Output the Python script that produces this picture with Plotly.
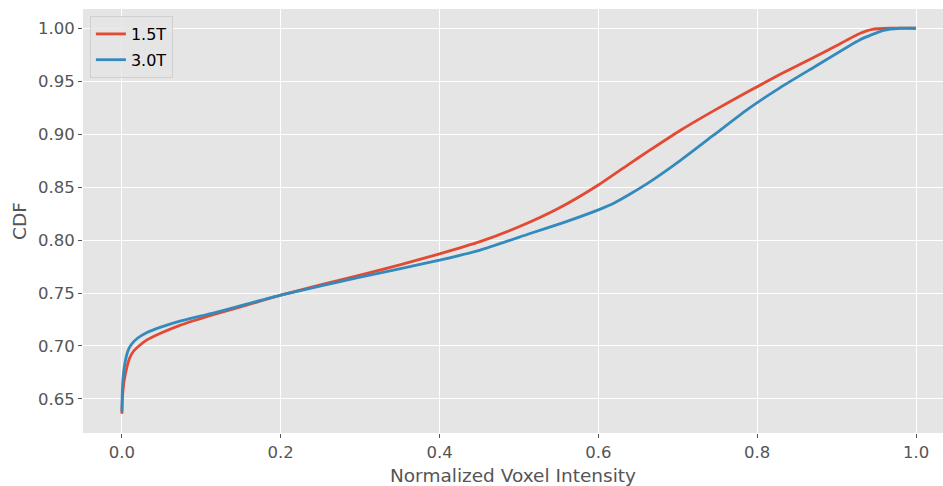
import plotly.graph_objects as go

x_15 = [0.0, 0.0005, 0.0015, 0.003, 0.0063, 0.01, 0.0146, 0.02, 0.031, 0.05, 0.073, 0.115, 0.157, 0.2,
        0.3, 0.35, 0.4, 0.451, 0.5, 0.55, 0.6, 0.64, 0.661, 0.703, 0.745, 0.787, 0.829, 0.871,
        0.896, 0.929, 0.945, 0.967, 1.0]
y_15 = [0.636, 0.648, 0.659, 0.668, 0.680, 0.689, 0.695, 0.699, 0.7055, 0.7125, 0.7195, 0.7295, 0.7385, 0.748,
        0.767, 0.7765, 0.787, 0.7985, 0.8125, 0.830, 0.852, 0.8725, 0.883, 0.9035, 0.922, 0.9395, 0.9565, 0.9725,
        0.982, 0.995, 0.999, 1.0, 1.0]

x_30 = [0.0, 0.0005, 0.0015, 0.003, 0.0055, 0.0085, 0.0125, 0.02, 0.031, 0.05, 0.073, 0.1, 0.115, 0.157, 0.2,
        0.3, 0.4, 0.451, 0.514, 0.556, 0.6, 0.62, 0.64, 0.661, 0.703, 0.745, 0.787,
        0.829, 0.871, 0.929, 0.959, 0.98, 1.0]
y_30 = [0.638, 0.656, 0.670, 0.680, 0.690, 0.697, 0.702, 0.7075, 0.7125, 0.718, 0.7235, 0.7285, 0.731, 0.7395, 0.748,
        0.765, 0.781, 0.7905, 0.8062, 0.8165, 0.8285, 0.835, 0.8435, 0.853, 0.875, 0.899, 0.923,
        0.944, 0.963, 0.989, 0.998, 1.0, 1.0]

series = [("1.5T", x_15, y_15, "#E24A33"), ("3.0T", x_30, y_30, "#348ABD")]

x_ticks = [0.0, 0.2, 0.4, 0.6, 0.8, 1.0]
x_ticktext = ["0.0", "0.2", "0.4", "0.6", "0.8", "1.0"]
y_ticks = [0.65, 0.70, 0.75, 0.80, 0.85, 0.90, 0.95, 1.00]
y_ticktext = ["0.65", "0.70", "0.75", "0.80", "0.85", "0.90", "0.95", "1.00"]

fig = go.Figure()
for name, xs, ys, col in series:
    fig.add_trace(go.Scatter(x=xs, y=ys, mode="lines", name=name, legendgroup=name,
                             line=dict(color=col, width=2.8, shape="spline", smoothing=0.5)))

font = "DejaVu Sans"
fig.update_layout(
    width=943, height=486,
    margin=dict(l=83, r=0, t=9, b=53),
    paper_bgcolor="white", plot_bgcolor="#E5E5E5",
    font=dict(family=font, color="#555555", size=16.5),
    showlegend=True,
    legend=dict(x=0.008, y=0.9835, xref="paper", yref="paper", xanchor="left", yanchor="top",
                bgcolor="rgba(229,229,229,0.8)", bordercolor="#D0D0D0", borderwidth=1,
                font=dict(color="black", size=16, family=font),
                traceorder="grouped", tracegroupgap=2),
)
fig.update_xaxes(range=[-0.049, (943 - 121.7) / 794.3], tickvals=x_ticks, ticktext=x_ticktext,
                 showgrid=True, gridcolor="white", gridwidth=1.2, zeroline=False,
                 ticks="outside", ticklen=4, tickcolor="#555555", showline=False,
                 title=dict(text="Normalized Voxel Intensity", font=dict(size=18.5, color="#555555"), standoff=8))
fig.update_yaxes(range=[0.6178, 1.0182], tickvals=y_ticks, ticktext=y_ticktext,
                 showgrid=True, gridcolor="white", gridwidth=1.2, zeroline=False,
                 ticks="outside", ticklen=4, tickcolor="#555555", showline=False,
                 title=dict(text="CDF", font=dict(size=18.5, color="#555555"), standoff=6))

fig.write_html("out.html")
